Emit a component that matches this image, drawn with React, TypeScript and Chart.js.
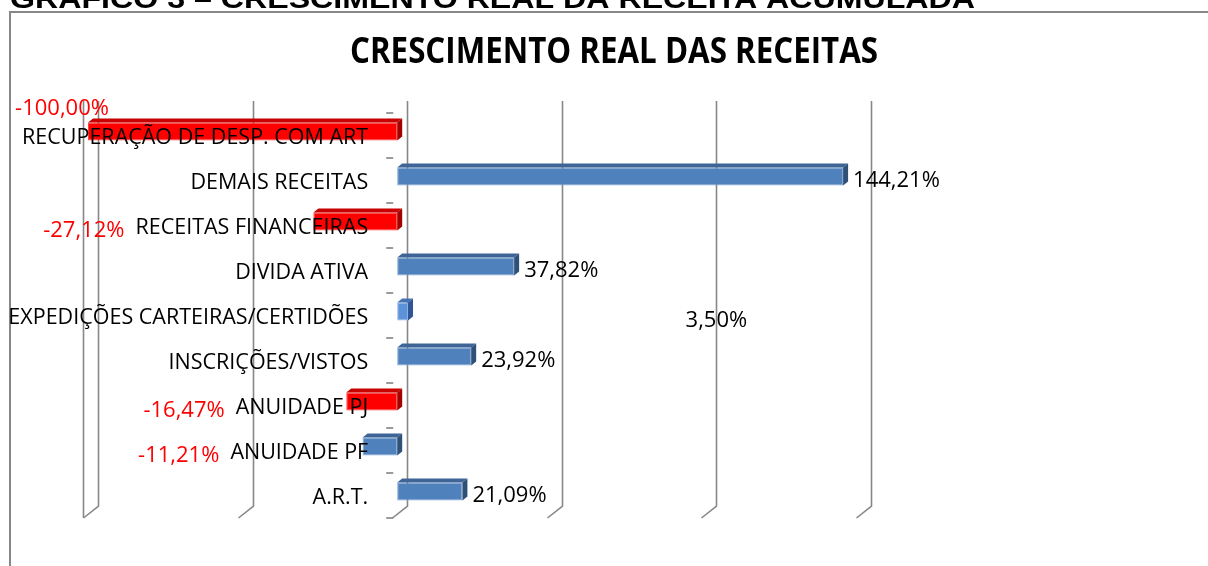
import React, { useEffect, useRef } from "react";
import { Chart, registerables } from "chart.js";

Chart.register(...registerables);

// ---------- data ----------
const categories = [
  "RECUPERAÇÃO DE DESP. COM ART",
  "DEMAIS RECEITAS",
  "RECEITAS FINANCEIRAS",
  "DIVIDA ATIVA",
  "EXPEDIÇÕES CARTEIRAS/CERTIDÕES",
  "INSCRIÇÕES/VISTOS",
  "ANUIDADE PJ",
  "ANUIDADE PF",
  "A.R.T.",
];
const growthValues = [-100.0, 144.21, -27.12, 37.82, 3.5, 23.92, -16.47, -11.21, 21.09];
const barColorKeys = ["red", "blue", "red", "blue", "lightBlue", "blue", "red", "blue", "blue"];
const labelColorKeys = ["neg", "pos", "neg", "pos", "pos", "pos", "neg", "neg", "pos"];
const labelPlacement = ["aboveStart", "end", "beforeCategory", "end", "free", "end", "beforeCategory", "beforeCategory", "end"];
const valueTicks = [-100, -50, 0, 50, 100, 150];
const FREE_LABEL_VALUE = 100;
const chartTitle = "CRESCIMENTO REAL DAS RECEITAS";
const pageHeading = "GRÁFICO 3 – CRESCIMENTO REAL DA RECEITA ACUMULADA";

// ---------- styles ----------
const palette: Record<string, { front: string; top: string; side: string; edge: string }> = {
  blue: { front: "#4F81BD", top: "#3E6596", side: "#2F5077", edge: "#7FA3D1" },
  lightBlue: { front: "#5B92D8", top: "#4473B0", side: "#2F5597", edge: "#8DB1E3" },
  red: { front: "#FF0000", top: "#C80000", side: "#A30000", edge: "#FF4040" },
};
const labelColors: Record<string, string> = { pos: "#000000", neg: "#FF0000" };
const GRID = "#878787";
const WALL_DX = 15;
const WALL_DY = 12;
const BAR_DX = 5;
const BAR_DY = 4;
const W = 1208;
const H = 566;
const CAT_FONT = '21.5px "Open Sans"';
const VAL_FONT = '22px "Open Sans"';

const fmt = (v: number) => v.toFixed(2).replace(".", ",") + "%";

const poly = (ctx: CanvasRenderingContext2D, pts: number[]) => {
  ctx.beginPath();
  ctx.moveTo(pts[0], pts[1]);
  for (let i = 2; i < pts.length; i += 2) ctx.lineTo(pts[i], pts[i + 1]);
  ctx.closePath();
  ctx.fill();
};

const fitText = (
  ctx: CanvasRenderingContext2D,
  text: string,
  x: number,
  y: number,
  width: number,
  align: "left" | "center"
) => {
  const m = ctx.measureText(text).width;
  const s = width / m;
  ctx.save();
  ctx.translate(x, y);
  ctx.scale(s, 1);
  ctx.textAlign = align;
  ctx.fillText(text, 0, 0);
  ctx.restore();
};

const threeDPlugin = {
  id: "threeD",
  beforeDraw(chart: any) {
    const ctx: CanvasRenderingContext2D = chart.ctx;
    ctx.save();
    ctx.fillStyle = "#ffffff";
    ctx.fillRect(0, 0, W, H);
    // page heading (clipped at the top)
    ctx.fillStyle = "#000";
    ctx.font = 'bold 28px "Liberation Sans", Arial, sans-serif';
    ctx.textBaseline = "alphabetic";
    fitText(ctx, pageHeading, 10, 8, 965, "left");
    // chart frame
    ctx.fillStyle = "#ffffff";
    ctx.fillRect(10, 12, W - 10, H - 12);
    ctx.strokeStyle = GRID;
    ctx.lineWidth = 2;
    ctx.beginPath();
    ctx.moveTo(10, H);
    ctx.lineTo(10, 12);
    ctx.lineTo(W, 12);
    ctx.stroke();
    // title
    ctx.fillStyle = "#000";
    ctx.font = 'bold 35px "Open Sans", sans-serif';
    fitText(ctx, chartTitle, 614, 63, 528, "center");
    ctx.restore();
  },
  beforeDatasetsDraw(chart: any) {
    const ctx: CanvasRenderingContext2D = chart.ctx;
    const { top, bottom } = chart.chartArea;
    const xs = chart.scales.x;
    const ys = chart.scales.y;
    ctx.save();
    ctx.strokeStyle = GRID;
    ctx.lineWidth = 1.6;
    valueTicks.forEach((v, i) => {
      const px = Math.round(xs.getPixelForValue(v)) + 0.5;
      ctx.beginPath();
      ctx.moveTo(px + WALL_DX, top - WALL_DY);
      ctx.lineTo(px + WALL_DX, bottom - WALL_DY);
      ctx.lineTo(px, bottom);
      ctx.stroke();
      if (i === 0) {
        ctx.beginPath();
        ctx.moveTo(px, top - WALL_DY);
        ctx.lineTo(px, bottom);
        ctx.stroke();
      }
    });
    // category tick marks at the zero line
    const zero = xs.getPixelForValue(0);
    const n = categories.length;
    ctx.lineWidth = 1.5;
    ctx.strokeStyle = "#7a7a7a";
    for (let i = 0; i <= n; i++) {
      let yb: number;
      if (i === 0) yb = top;
      else if (i === n) yb = bottom;
      else yb = (ys.getPixelForValue(i - 1) + ys.getPixelForValue(i)) / 2;
      ctx.beginPath();
      ctx.moveTo(zero - 6, Math.round(yb));
      ctx.lineTo(zero + 1, Math.round(yb));
      ctx.stroke();
    }
    ctx.restore();
    ctx.save();
    ctx.translate(BAR_DX, -BAR_DY);
  },
  afterDatasetsDraw(chart: any) {
    const ctx: CanvasRenderingContext2D = chart.ctx;
    const meta = chart.getDatasetMeta(0);
    meta.data.forEach((el: any, i: number) => {
      const { x, y, base, height } = el.getProps(["x", "y", "base", "height"], true);
      const l = Math.min(x, base);
      const r = Math.max(x, base);
      const t = y - height / 2;
      const b = y + height / 2;
      const c = palette[barColorKeys[i]];
      ctx.fillStyle = c.top;
      poly(ctx, [l, t, l + BAR_DX, t - BAR_DY, r + BAR_DX, t - BAR_DY, r, t]);
      ctx.fillStyle = c.side;
      poly(ctx, [r, t, r + BAR_DX, t - BAR_DY, r + BAR_DX, b - BAR_DY, r, b]);
    });
    ctx.restore();
  },
  afterDraw(chart: any) {
    const ctx: CanvasRenderingContext2D = chart.ctx;
    const xs = chart.scales.x;
    const ys = chart.scales.y;
    const zero = xs.getPixelForValue(0);
    const catRight = zero - 24;
    const meta = chart.getDatasetMeta(0);
    ctx.save();
    ctx.textBaseline = "middle";
    // category labels
    ctx.font = CAT_FONT;
    ctx.fillStyle = "#000";
    ctx.textAlign = "right";
    const catWidths: number[] = [];
    categories.forEach((c, i) => {
      const cy = ys.getPixelForValue(i);
      ctx.fillText(c, catRight, cy + 2);
      catWidths.push(ctx.measureText(c).width);
    });
    // data labels
    ctx.font = VAL_FONT;
    meta.data.forEach((el: any, i: number) => {
      const { x, y, base } = el.getProps(["x", "y", "base"], true);
      const l = Math.min(x, base) + BAR_DX;
      const r = Math.max(x, base) + BAR_DX;
      const txt = fmt(growthValues[i]);
      ctx.fillStyle = labelColors[labelColorKeys[i]];
      const mode = labelPlacement[i];
      if (mode === "end") {
        ctx.textAlign = "left";
        ctx.fillText(txt, r + BAR_DX + 5, y);
      } else if (mode === "aboveStart") {
        ctx.textAlign = "center";
        ctx.fillText(txt, l - 26, y - 27);
      } else if (mode === "beforeCategory") {
        ctx.textAlign = "right";
        ctx.fillText(txt, catRight - catWidths[i] - 11, y + 5);
      } else {
        ctx.textAlign = "center";
        ctx.fillText(txt, xs.getPixelForValue(FREE_LABEL_VALUE) + WALL_DX, y + 5);
      }
    });
    ctx.restore();
  },
};

export default function App() {
  const ref = useRef<HTMLCanvasElement | null>(null);
  useEffect(() => {
    if (!ref.current) return;
    const chart = new Chart(ref.current, {
      type: "bar",
      data: {
        labels: categories,
        datasets: [
          {
            data: growthValues,
            backgroundColor: barColorKeys.map((k) => palette[k].front),
            borderColor: barColorKeys.map((k) => palette[k].edge),
            borderWidth: 1,
            borderSkipped: false,
            barPercentage: 0.4,
            categoryPercentage: 1,
          },
        ],
      },
      options: {
        animation: false,
        responsive: false,
        devicePixelRatio: 1,
        indexAxis: "y",
        layout: { padding: { left: 83, right: W - 856, top: 113, bottom: H - 518 } },
        plugins: {
          legend: { display: false },
          title: { display: false },
          tooltip: { enabled: false },
        },
        scales: {
          x: { display: false, min: -100, max: 150 },
          y: { display: false },
        },
      },
      plugins: [threeDPlugin],
    } as any);
    return () => chart.destroy();
  }, []);
  return (
    <div style={{ position: "fixed", left: 0, top: 0, width: W, height: H, background: "#fff" }}>
      <canvas ref={ref} width={W} height={H} style={{ display: "block" }} />
    </div>
  );
}
